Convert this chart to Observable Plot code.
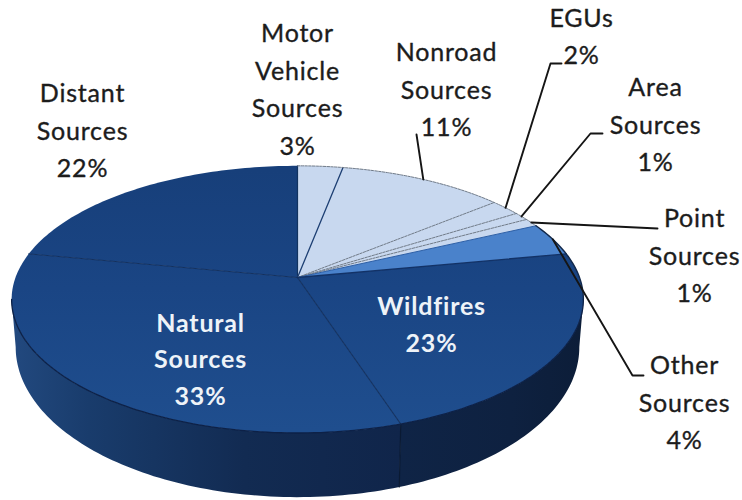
<!DOCTYPE html>
<html>
<head>
<meta charset="utf-8">
<style>
  html, body { margin: 0; padding: 0; background: #fff; }
  svg { display: block; }
  svg text { letter-spacing: 0.8px; }
</style>
<script src="https://cdn.jsdelivr.net/npm/d3@7"></script>
<script src="https://cdn.jsdelivr.net/npm/@observablehq/plot@0.6"></script>
</head>
<body>
<script>
// Source categories, clockwise from twelve o'clock, with their share of the total.
const names = ["Motor\nVehicle\nSources", "Nonroad\nSources", "EGUs", "Area\nSources", "Point\nSources",
               "Other\nSources", "Wildfires", "Natural\nSources", "Distant\nSources"];
const shares = [3, 11, 2, 1, 1, 4, 23, 33, 22];
const tones = ["light", "light", "light", "light", "light", "mid", "dark", "dark", "dark"];

// Page placement of each label's middle line, and the leader bends (empty when no leader).
const labelX = [297, 446, 581, 655, 694, 684, 431, 200, 82];
const labelY = [86, 86, 33, 121, 252, 399, 321, 356, 127];
const leaderBends = [
  [], [[416, 134]], [[550, 63], [561, 63]], [[590, 133], [602, 133]],
  [[657, 228]], [[632, 375], [643, 375]], [], [], []
];

// Projected disc: a circle seen in perspective, so the apex sits above the ellipse's middle.
const topDisc = {cx: 297, cy: 277, a: 282, b: 130, k: 0.164};
const baseDisc = {cx: 297, cy: 322, a: 278, b: 146, k: 0.164};
const project = (d, t) => {
  const w = 1 + d.k * Math.cos(t);
  return {x: d.cx + d.a * Math.sin(t) / w, y: d.cy - d.b * Math.cos(t) / w};
};

const cumulative = d3.cumsum(shares);
const total = d3.sum(shares);
const angleAt = (pct) => (pct / total) * 2 * Math.PI;
const slices = shares.map((s, i) => ({
  i, tone: tones[i],
  start: angleAt(cumulative[i] - s),
  end: angleAt(cumulative[i]),
  mid: angleAt(cumulative[i] - s / 2)
}));

const arcAngles = (t0, t1, step = 0.02) => {
  const n = Math.max(2, Math.ceil((t1 - t0) / step));
  return d3.range(n + 1).map((j) => t0 + (t1 - t0) * j / n);
};

const wedge = (s) => [
  {x: topDisc.cx, y: topDisc.cy},
  ...arcAngles(s.start, s.end).map((t) => project(topDisc, t)),
  {x: topDisc.cx, y: topDisc.cy}
];

// Side wall runs from the right extreme round the front to the left extreme.
const wallFrom = Math.acos(-topDisc.k);
const wallTo = 2 * Math.PI - wallFrom;
const wallPiece = (t0, t1) => {
  const ts = arcAngles(t0, t1);
  return [...ts.map((t) => project(topDisc, t)),
          ...ts.slice().reverse().map((t) => project(baseDisc, t))];
};
const seam = slices[6].end;

const tone = {light: "#c8d8ef", mid: "#4a82cb", dark: "url(#topShade)"};

const defs = () => {
  const g = d3.create("svg:defs");
  const grad = (id, x1, y1, x2, y2, stops) => {
    const l = g.append("linearGradient").attr("id", id).attr("gradientUnits", "userSpaceOnUse")
      .attr("x1", x1).attr("y1", y1).attr("x2", x2).attr("y2", y2);
    stops.forEach(([o, c]) => l.append("stop").attr("offset", o).attr("stop-color", c));
  };
  grad("topShade", 0, 170, 0, 430, [[0, "#173f7a"], [0.45, "#1a4584"], [1, "#1f4e8e"]]);
  grad("wallLeft", 10, 0, 400, 0, [[0, "#22497f"], [0.2, "#193c6c"], [0.6, "#122b52"], [1, "#10254a"]]);
  grad("wallRight", 400, 0, 585, 0, [[0, "#0f2446"], [0.6, "#0e2140"], [1, "#0c1d38"]]);
  return g.node();
};

const line = (pts, opts) => Plot.line(pts, {x: "x", y: "y", ...opts});

const spoke = (t, stroke, extra = {}) =>
  line([{x: topDisc.cx, y: topDisc.cy}, project(topDisc, t)], {stroke, strokeWidth: 1, ...extra});

const leaders = slices.filter((s) => leaderBends[s.i].length).map((s) =>
  line([project(topDisc, s.mid), ...leaderBends[s.i].map(([x, y]) => ({x, y}))],
       {stroke: "#151515", strokeWidth: 1.9}));

const labels = names.map((n, i) => ({
  text: `${n}\n${shares[i]}%`, x: labelX[i], y: labelY[i], inside: tones[i] === "dark" && i < 8
}));

const chart = Plot.plot({
  width: 742, height: 500, margin: 0,
  x: {domain: [0, 742], axis: null},
  y: {domain: [500, 0], axis: null},
  marks: [
    defs,
    line(wallPiece(seam, wallTo), {fill: "url(#wallLeft)", stroke: "none"}),
    line(wallPiece(wallFrom, seam), {fill: "url(#wallRight)", stroke: "none"}),
    line([project(topDisc, seam), project(baseDisc, seam)], {stroke: "#0a1a33", strokeWidth: 1.2}),
    ...slices.map((s) => line(wedge(s), {fill: tone[s.tone], stroke: "none"})),
    // slice borders
    spoke(slices[0].start, "#12335f", {strokeWidth: 1.2}),
    spoke(slices[0].end, "#1d3f73", {strokeWidth: 1.3}),
    ...[1, 2, 3].map((i) => spoke(slices[i].end, "#6f7a88", {strokeDasharray: "2.5,1.2"})),
    spoke(slices[4].end, "#2d5fa6"),
    spoke(slices[5].end, "#123267", {strokeWidth: 1.3}),
    spoke(slices[6].end, "#12305f", {strokeWidth: 1.2}),
    spoke(slices[7].end, "#12305f", {strokeWidth: 1}),
    // rim of the pale slices and the dark edge on the right
    line(arcAngles(0, slices[4].end).map((t) => project(topDisc, t)),
         {stroke: "#6f7a88", strokeWidth: 1, strokeDasharray: "2.5,1.2"}),
    line(arcAngles(slices[4].end, wallFrom).map((t) => project(topDisc, t)),
         {stroke: "#12284a", strokeWidth: 1.4}),
    line(arcAngles(wallFrom, wallTo).map((t) => project(topDisc, t)),
         {stroke: "#0d2147", strokeWidth: 1.3}),
    ...leaders,
    Plot.text(labels.filter((d) => !d.inside), {
      x: "x", y: "y", text: "text", lineHeight: 1.5, fontSize: 25,
      fontFamily: "Lato", fill: "#1c1c1c", stroke: "#1c1c1c", strokeWidth: 0.35, textAnchor: "middle"
    }),
    Plot.text(labels.filter((d) => d.inside), {
      x: "x", y: "y", text: "text", lineHeight: 1.47, fontSize: 25,
      fontFamily: "Lato", fontWeight: 700, fill: "#eef3f8", textAnchor: "middle"
    })
  ]
});
document.body.appendChild(chart);
</script>
</body>
</html>
